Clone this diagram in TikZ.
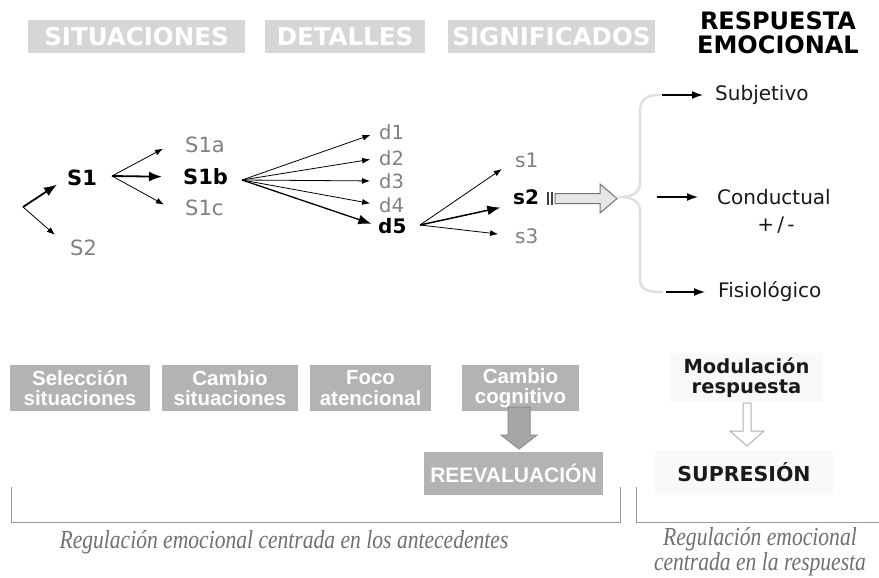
\documentclass[tikz,border=0pt]{standalone}
\usepackage{fontspec}
\setmainfont{DejaVu Sans}
\newfontfamily\vfont{DejaVu Sans}
\newfontfamily\afont{Liberation Sans}
\newfontfamily\itfont[FakeStretch=0.83]{Liberation Serif}
\usetikzlibrary{arrows.meta,calc}
\definecolor{hdrfill}{HTML}{D6D6D6}
\definecolor{boxfill}{HTML}{B3B3B3}
\definecolor{lblgray}{HTML}{808080}
\definecolor{itgray}{HTML}{707070}
\definecolor{bracegray}{HTML}{E0E0E0}
\definecolor{bracketgray}{HTML}{9A9A9A}
\definecolor{dnfill}{HTML}{A6A6A6}
\definecolor{dndraw}{HTML}{8C8C8C}
\definecolor{faintfill}{HTML}{F9F9F9}
\definecolor{shaftfill}{HTML}{E6E6E6}
\definecolor{nearblack}{HTML}{1A1A1A}
\tikzset{
  hdrbox/.style={fill=hdrfill, text=white, font=\vfont\bfseries\fontsize{24.5}{24.5}\selectfont, inner sep=0pt, minimum height=33},
  hdrtitle/.style={text=black, font=\vfont\bfseries\fontsize{24}{24}\selectfont, align=center, inner sep=0pt},
  bottombox/.style={fill=boxfill, text=white, font=\afont\bfseries\fontsize{20.5}{20.5}\selectfont, align=center, inner sep=0pt, minimum height=46},
  lbl/.style={anchor=west, inner sep=0pt, text=lblgray, font=\vfont\fontsize{21}{21}\selectfont},
  lblb/.style={anchor=west, inner sep=0pt, text=black, font=\vfont\bfseries\fontsize{21}{21}\selectfont},
  dlbl/.style={anchor=west, inner sep=0pt, text=lblgray, font=\vfont\fontsize{19.5}{19.5}\selectfont},
  dlblb/.style={anchor=west, inner sep=0pt, text=black, font=\vfont\bfseries\fontsize{20}{20}\selectfont},
  slbl/.style={anchor=west, inner sep=0pt, text=lblgray, font=\vfont\fontsize{20}{20}\selectfont},
  slblb/.style={anchor=west, inner sep=0pt, text=black, font=\vfont\bfseries\fontsize{20}{20}\selectfont},
  resp/.style={anchor=west, inner sep=0pt, text=nearblack, font=\vfont\fontsize{20}{20}\selectfont},
  thn/.style={draw=black, line width=0.8pt, -{Latex[length=8pt,width=6pt]}},
  thk/.style={draw=black, line width=1.8pt, -{Latex[length=13pt,width=10pt]}},
  midarr/.style={draw=black, line width=1.5pt, -{Latex[length=11pt,width=8pt]}},
  faintbox/.style={fill=faintfill, text=nearblack, font=\vfont\bfseries\fontsize{19.5}{20}\selectfont, align=center, inner sep=0pt},
  itl/.style={text=itgray, font=\itfont\itshape\fontsize{26}{22}\selectfont, align=center, inner sep=0pt},
  bracket/.style={draw=bracketgray, line width=1pt},
}
\begin{document}
\begin{tikzpicture}[x=1pt,y=-1pt]
\useasboundingbox (0,0) rectangle (879,578);
\fill[white] (0,0) rectangle (879,578);

% header
\node[hdrbox, minimum width=217] (h1) at (136.5,36.5) {SITUACIONES};
\node[hdrbox, minimum width=160] (h2) at (345,36.5) {DETALLES};
\node[hdrbox, minimum width=207] (h3) at (551.5,36.5) {SIGNIFICADOS};
\node[hdrtitle] (h4) at (778,33) {RESPUESTA\\EMOCIONAL};

% situations
\node[lblb] (s1) at (67,178) {S1};
\node[lbl] (s2) at (70,248) {S2};
\node[lbl] (s1a) at (185,145) {S1a};
\node[lblb] (s1b) at (183,177) {S1b};
\node[lbl] (s1c) at (185,208) {S1c};
\coordinate (c0) at (23,207);
\draw[thk, shorten >=12pt] (c0) -- (s1.west);
\draw[thn, shorten >=20pt] (c0) -- (s2.west);
\coordinate (f1) at (112,176);
\draw[thn, shorten >=25pt] (f1) -- (s1a.north west);
\draw[thk, shorten >=21pt] (f1) -- (s1b.west);
\draw[thn, shorten >=24pt] (f1) -- (s1c.south west);

% details
\node[dlbl] (d1) at (379,132) {d1};
\node[dlbl] (d2) at (379,158) {d2};
\node[dlbl] (d3) at (379,181) {d3};
\node[dlbl] (d4) at (379,205) {d4};
\node[dlblb] (d5) at (378,226) {d5};
\coordinate (f2) at (242,180);
\draw[thn, shorten >=9pt] (f2) -- (d1.west);
\draw[thn, shorten >=9pt] (f2) -- (d2.west);
\draw[thn, shorten >=9pt] (f2) -- (d3.west);
\draw[thn, shorten >=9pt] (f2) -- (d4.west);
\draw[thk, line width=1.3pt, shorten >=7pt] (f2) -- (d5.west);

% meanings
\node[slbl] (m1) at (515,160) {s1};
\node[slblb] (m2) at (513,197) {s2};
\node[slbl] (m3) at (515,236) {s3};
\coordinate (f3) at (420,225);
\draw[thn, shorten >=16pt] (f3) -- (m1.west);
\draw[thk, line width=1.5pt, shorten >=13pt] (f3) -- (m2.south west);
\draw[thn, shorten >=17pt] (f3) -- (m3.west);

% striped arrow to the response
\fill[black!75] (546.5,192) rectangle (548.5,205);
\fill[black!75] (550.5,192) rectangle (552.5,205);
\draw[draw=black!55, fill=shaftfill, line width=1pt, line join=miter]
  (555,193.5) -- (600,193.5) -- (600,184) -- (617,198.5) -- (600,213) -- (600,203.5) -- (555,203.5) -- cycle;

% brace
\draw[bracegray, line width=2.5pt, line cap=round]
  (660,95) .. controls (646,95) and (640,99) .. (640,112) -- (640,182)
  .. controls (640,192) and (634,196) .. (623,197)
  .. controls (634,198) and (640,202) .. (640,212) -- (640,279)
  .. controls (640,289) and (646,292) .. (662,292);

% response channels
\node[resp] (subj) at (715,95) {Subjetivo};
\node[resp] (cond) at (717,197) {Conductual};
\node[resp] (fisi) at (718,292) {Fisiológico};
\node[inner sep=0pt, text=nearblack, font=\vfont\fontsize{20}{20}\selectfont] (pm) at (776,225) {+\,/\,-};
\coordinate (b1) at (662,95);
\coordinate (b2) at (657,197);
\coordinate (b3) at (666,292);
\draw[midarr, shorten >=12pt] (b1) -- (subj.west);
\draw[midarr, shorten >=19pt] (b2) -- (cond.west);
\draw[midarr, shorten >=13pt] (b3) -- (fisi.west);

% strategies
\node[bottombox, minimum width=140] (sel) at (80,388) {Selección\\situaciones};
\node[bottombox, minimum width=136] (cam) at (230,388) {Cambio\\situaciones};
\node[bottombox, minimum width=121] (foc) at (370.5,388) {Foco\\atencional};
\node[bottombox, minimum width=117] (cog) at (520.5,388) {Cambio\\cognitivo};
\node[fill=boxfill, text=white, font=\afont\bfseries\fontsize{21}{21}\selectfont, inner sep=0pt, minimum width=179, minimum height=43] (ree) at (513.5,473.5) {REEVALUACIÓN};
\draw[fill=dnfill, draw=dndraw, line width=1pt]
  (508,407) -- (530,407) -- (530,435) -- (537,435) -- (519,449) -- (501,435) -- (508,435) -- cycle;

% response modulation
\node[faintbox, minimum width=153, minimum height=49] (mod) at (746.5,377.5) {Modulación\\respuesta};
\node[faintbox, font=\vfont\bfseries\fontsize{20.5}{20.5}\selectfont, minimum width=178, minimum height=45] (sup) at (744,472.5) {SUPRESIÓN};
\draw[fill=white, draw=black!30, line width=1pt]
  (743,403) -- (751,403) -- (751,431) -- (764,431) -- (747,446) -- (730,431) -- (743,431) -- cycle;

% brackets and captions
\draw[bracket] (11,487) -- (11,522) -- (620,522) -- (620,487);
\draw[bracket] (636,487) -- (636,522) -- (879,522);
\node[itl] (antec) at (284,542) {Regulación emocional centrada en los antecedentes};
\node[itl] (respc) at (760,552) {Regulación emocional\\centrada en la respuesta};
\end{tikzpicture}
\end{document}
